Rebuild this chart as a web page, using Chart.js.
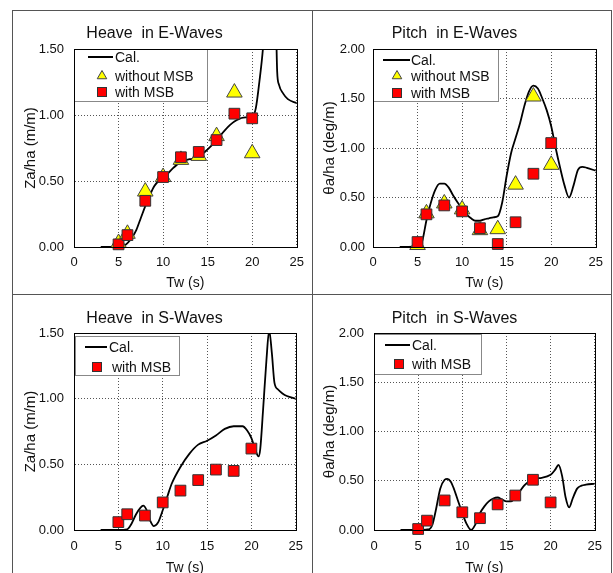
<!DOCTYPE html>
<html>
<head>
<meta charset="utf-8">
<script src="https://cdn.jsdelivr.net/npm/chart.js@4.4.0/dist/chart.umd.min.js"></script>
<style>
html, body { margin: 0; padding: 0; background: #fff; }
body { width: 613px; height: 573px; position: relative; overflow: hidden; }
canvas { position: absolute; }
.ln { position: absolute; background: #555; z-index: 2; }
</style>
</head>
<body>
<canvas id="c1" width="300" height="284" style="left:12px;top:10px"></canvas>
<canvas id="c2" width="299" height="284" style="left:312px;top:10px"></canvas>
<canvas id="c3" width="300" height="285" style="left:12px;top:294px"></canvas>
<canvas id="c4" width="299" height="285" style="left:312px;top:294px"></canvas>

<div class="ln" style="left:12px;top:10px;width:600px;height:1px"></div>
<div class="ln" style="left:12px;top:10px;width:1px;height:563px"></div>
<div class="ln" style="left:611px;top:10px;width:1px;height:563px"></div>
<div class="ln" style="left:312px;top:10px;width:1px;height:563px"></div>
<div class="ln" style="left:12px;top:294px;width:600px;height:1px"></div>

<script>
// measured wave periods (s)
const tw = [5, 6, 8, 10, 12, 14, 16, 18, 20];

const heaveE_without = [0.03, 0.10, 0.42, 0.53, 0.66, 0.69, 0.84, 1.17, 0.71];
const heaveE_with = [0.02, 0.09, 0.35, 0.53, 0.68, 0.72, 0.81, 1.01, 0.975];
const pitchE_without = [0.02, 0.34, 0.44, 0.38, 0.17, 0.18, 0.63, 1.52, 0.83];
const pitchE_with = [0.05, 0.33, 0.42, 0.36, 0.19, 0.03, 0.25, 0.74, 1.05];
const heaveS_with = [0.06, 0.12, 0.11, 0.21, 0.30, 0.38, 0.46, 0.45, 0.62];
const pitchS_with = [0.01, 0.095, 0.30, 0.18, 0.12, 0.26, 0.35, 0.51, 0.28];

// calculated curves
const calHeaveE_T = [3, 4, 5, 5.5, 6, 6.5, 7, 7.5, 8, 8.5, 9, 9.5, 10, 11, 12, 13, 14, 15, 16, 17, 18, 19, 20, 20.4, 20.8, 21.2, 21.6, 22, 22.6, 22.8, 23, 23.5, 24, 25];
const calHeaveE_Y = [0, 0, 0, 0.005, 0.03, 0.07, 0.13, 0.22, 0.31, 0.39, 0.46, 0.5, 0.52, 0.59, 0.645, 0.665, 0.685, 0.74, 0.81, 0.89, 0.95, 0.98, 0.99, 1.05, 1.25, 1.5, 1.9, 2.2, 1.9, 1.33, 1.23, 1.16, 1.12, 1.09];

const calPitchE_T = [3, 4, 5, 5.5, 6, 6.5, 7, 7.5, 8, 8.5, 9, 9.5, 10, 10.5, 11, 11.5, 12, 12.5, 13, 13.5, 14, 14.5, 15, 15.5, 16, 16.5, 17, 17.5, 18, 18.5, 19, 19.5, 20, 20.5, 21, 21.5, 22, 22.5, 23, 23.5, 24, 25];
const calPitchE_Y = [0, 0, 0.005, 0.05, 0.27, 0.45, 0.58, 0.64, 0.64, 0.6, 0.52, 0.45, 0.39, 0.33, 0.29, 0.265, 0.265, 0.28, 0.29, 0.3, 0.31, 0.45, 0.72, 0.95, 1.1, 1.25, 1.43, 1.57, 1.63, 1.6, 1.5, 1.38, 1.22, 1.0, 0.8, 0.62, 0.5, 0.62, 0.78, 0.81, 0.8, 0.77];

const calHeaveS_T = [3, 4, 5, 6, 6.5, 7, 7.5, 7.8, 8.2, 8.6, 9, 9.5, 10, 10.5, 11, 12, 13, 14, 15, 16, 17, 18, 19, 19.5, 20, 20.5, 20.8, 21, 21.3, 21.7, 22, 22.3, 22.6, 23, 23.5, 24, 25];
const calHeaveS_Y = [0, 0, 0, 0.005, 0.05, 0.12, 0.17, 0.185, 0.15, 0.07, 0.03, 0.06, 0.15, 0.25, 0.35, 0.48, 0.58, 0.65, 0.68, 0.72, 0.77, 0.79, 0.79, 0.76, 0.7, 0.6, 0.56, 0.62, 0.9, 1.3, 1.52, 1.35, 1.12, 1.07, 1.04, 1.02, 1.0];

const calPitchS_T = [3, 4, 5, 6, 6.3, 6.6, 7, 7.5, 8, 8.3, 8.7, 9, 9.5, 10, 10.5, 11, 11.5, 12, 12.5, 13, 13.5, 14, 14.5, 15, 15.5, 16, 16.5, 17, 17.5, 18, 19, 20, 20.5, 20.9, 21.3, 21.7, 22.1, 22.5, 23, 23.5, 24, 25];
const calPitchS_Y = [0, 0, 0, 0.005, 0.01, 0.05, 0.2, 0.42, 0.51, 0.52, 0.49, 0.43, 0.3, 0.17, 0.06, 0.0, 0.06, 0.17, 0.24, 0.29, 0.32, 0.33, 0.31, 0.29, 0.29, 0.33, 0.39, 0.45, 0.49, 0.52, 0.53, 0.56, 0.61, 0.66, 0.55, 0.33, 0.23, 0.32, 0.42, 0.45, 0.46, 0.47];

const xTicks = [0, 5, 10, 15, 20, 25];

const FONT = "'Liberation Sans', Arial, sans-serif";
const TXT = '#111';

function pts(xs, ys) {
    return xs.map((x, i) => ({ x: x, y: ys[i] }));
}

function calSet(xs, ys) {
    return {
        label: 'Cal.', kind: 'line', data: pts(xs, ys), borderColor: '#000', borderWidth: 1.8,
        pointRadius: 0, showLine: true, cubicInterpolationMode: 'monotone', clip: 0, order: 3
    };
}
function withoutSet(ys) {
    return {
        label: 'without MSB', kind: 'tri', data: pts(tw, ys), showLine: false, pointStyle: 'triangle',
        pointRadius: 9, pointBackgroundColor: '#ffff00', pointBorderColor: '#444', pointBorderWidth: 1,
        clip: false, order: 2
    };
}
function withSet(ys) {
    return {
        label: 'with MSB', kind: 'rect', data: pts(tw, ys), showLine: false, pointStyle: 'rect',
        pointRadius: 7.6, pointBackgroundColor: '#ff0000', pointBorderColor: '#333', pointBorderWidth: 1,
        clip: false, order: 1
    };
}

// legend box drawn inside the plot area + black frame round it
const boxPlugin = {
    id: 'boxLegend',
    afterDraw(chart, args, opts) {
        const ctx = chart.ctx;
        const a = chart.chartArea;
        const lg = opts.layout;
        ctx.save();
        ctx.fillStyle = '#fff';
        ctx.fillRect(a.left + lg.x, a.top + lg.y, lg.w, lg.h);
        ctx.strokeStyle = '#888';
        ctx.lineWidth = 1;
        ctx.strokeRect(Math.round(a.left + lg.x) + 0.5, Math.round(a.top + lg.y) + 0.5, lg.w, lg.h);
        ctx.font = '14px ' + FONT;
        ctx.textBaseline = 'middle';
        ctx.textAlign = 'left';
        chart.data.datasets.forEach((ds, i) => {
            const y = a.top + lg.rows[i];
            const mx = a.left + lg.markX;
            if (ds.kind === 'line') {
                ctx.strokeStyle = '#000';
                ctx.lineWidth = 2;
                ctx.beginPath();
                ctx.moveTo(a.left + lg.line[0], y);
                ctx.lineTo(a.left + lg.line[1], y);
                ctx.stroke();
            } else if (ds.kind === 'tri') {
                const r = 5.5;
                ctx.fillStyle = '#ffff00';
                ctx.strokeStyle = '#444';
                ctx.lineWidth = 1;
                ctx.beginPath();
                ctx.moveTo(mx, y - r);
                ctx.lineTo(mx + r * 0.866, y + r / 2);
                ctx.lineTo(mx - r * 0.866, y + r / 2);
                ctx.closePath();
                ctx.fill();
                ctx.stroke();
            } else {
                ctx.fillStyle = '#ff0000';
                ctx.strokeStyle = '#333';
                ctx.lineWidth = 1;
                ctx.fillRect(mx - 4.5, y - 4.5, 9, 9);
                ctx.strokeRect(mx - 4.5, y - 4.5, 9, 9);
            }
            ctx.fillStyle = TXT;
            ctx.fillText(ds.label, a.left + (lg.textX[i] || lg.textX[0]), y + 1);
        });
        ctx.strokeStyle = '#000';
        ctx.lineWidth = 1;
        ctx.strokeRect(Math.round(a.left) + 0.5, Math.round(a.top) + 0.5,
            Math.round(a.right - a.left), Math.round(a.bottom - a.top));
        ctx.restore();
    }
};

function makePanel(p) {
    new Chart(document.getElementById(p.id), {
        type: 'line',
        data: { datasets: p.datasets },
        plugins: [boxPlugin],
        options: {
            responsive: false,
            animation: false,
            events: [],
            layout: { padding: { left: 0, right: p.padR, top: 0, bottom: 0 } },
            plugins: {
                legend: { display: false },
                tooltip: { enabled: false },
                title: {
                    display: true, text: p.title, color: TXT,
                    font: { family: FONT, size: 16, weight: 'normal' },
                    padding: { top: p.titleTop, bottom: p.titleBottom }
                },
                boxLegend: { layout: p.legend }
            },
            scales: {
                x: {
                    type: 'linear', min: 0, max: 25,
                    afterBuildTicks: (s) => { s.ticks = xTicks.map(v => ({ value: v })); },
                    afterFit: (s) => { s.height = p.xH; },
                    grid: { color: '#555', lineWidth: 1, drawTicks: false },
                    border: { display: true, color: '#000', width: 1, dash: [1, 2] },
                    ticks: { color: TXT, font: { family: FONT, size: 13 }, padding: p.xTickPad, maxRotation: 0 },
                    title: {
                        display: true, text: 'Tw (s)', color: TXT,
                        font: { family: FONT, size: 14 }, padding: { top: 0, bottom: 2.6 }
                    }
                },
                y: {
                    type: 'linear', min: 0, max: p.yMax,
                    afterFit: (s) => { s.width = p.yW; },
                    grid: { color: '#555', lineWidth: 1, drawTicks: false },
                    border: { display: true, color: '#000', width: 1, dash: [1, 2] },
                    ticks: {
                        stepSize: 0.5, color: TXT, font: { family: FONT, size: 13 }, padding: p.yTickPad,
                        callback: (v) => v.toFixed(2)
                    },
                    title: {
                        display: true, text: p.yTitle, color: TXT,
                        font: { family: FONT, size: 15 }, padding: { top: p.yTitlePad, bottom: 0 }
                    }
                }
            }
        }
    });
}

makePanel({
    id: 'c1', title: 'Heave  in E-Waves', yTitle: 'Za/ha (m/m)', yMax: 1.5,
    yW: 62, xH: 47, padR: 15, yTickPad: 10, yTitlePad: 10, titleTop: 14.4, titleBottom: 5.4, xTickPad: 8,
    legend: { x: 0, y: 0, w: 133, h: 52, rows: [8, 27, 43], line: [14, 39], markX: 28, textX: [41] },
    datasets: [calSet(calHeaveE_T, calHeaveE_Y), withoutSet(heaveE_without), withSet(heaveE_with)]
});

makePanel({
    id: 'c2', title: 'Pitch  in E-Waves', yTitle: 'θa/ha (deg/m)', yMax: 2.0,
    yW: 61, xH: 47, padR: 14, yTickPad: 8, yTitlePad: 9, titleTop: 14.4, titleBottom: 5.4, xTickPad: 8,
    legend: { x: 0, y: 0, w: 125, h: 52, rows: [11, 27, 44], line: [10, 37], markX: 24, textX: [38] },
    datasets: [calSet(calPitchE_T, calPitchE_Y), withoutSet(pitchE_without), withSet(pitchE_with)]
});

makePanel({
    id: 'c3', title: 'Heave  in S-Waves', yTitle: 'Za/ha (m/m)', yMax: 1.5,
    yW: 62, xH: 49, padR: 15, yTickPad: 10, yTitlePad: 10, titleTop: 15.4, titleBottom: 4.4, xTickPad: 9,
    legend: { x: 1, y: 3, w: 104, h: 39, rows: [14, 34], line: [11, 33], markX: 23, textX: [35, 38] },
    datasets: [calSet(calHeaveS_T, calHeaveS_Y), withSet(heaveS_with)]
});

makePanel({
    id: 'c4', title: 'Pitch  in S-Waves', yTitle: 'θa/ha (deg/m)', yMax: 2.0,
    yW: 62, xH: 49, padR: 14, yTickPad: 10, yTitlePad: 9, titleTop: 15.4, titleBottom: 4.4, xTickPad: 9,
    legend: { x: 0, y: 1, w: 107, h: 40, rows: [12, 31], line: [11, 36], markX: 25, textX: [38] },
    datasets: [calSet(calPitchS_T, calPitchS_Y), withSet(pitchS_with)]
});
</script>
</body>
</html>
